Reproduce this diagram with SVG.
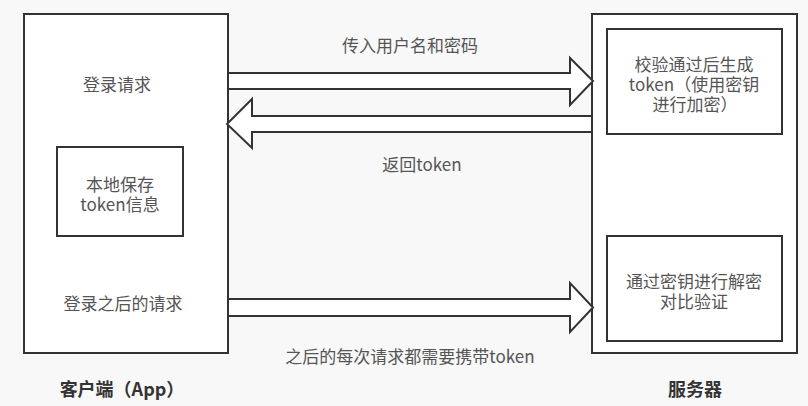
<svg xmlns="http://www.w3.org/2000/svg" width="808" height="406" viewBox="0 0 808 406">
<style>
.box{fill:#fff;stroke:#333;stroke-width:2}
.arrow{fill:#fff;stroke:#333;stroke-width:2;stroke-linejoin:miter}
.t{font-family:"Noto Sans CJK SC","Microsoft YaHei",sans-serif;font-size:17px;fill:#555;text-anchor:middle;dominant-baseline:central}
.b{font-family:"Noto Sans CJK SC","Microsoft YaHei",sans-serif;font-size:18px;font-weight:bold;fill:#333;text-anchor:middle;dominant-baseline:central}
</style>
<rect width="808" height="406" fill="#f8f8f8"/>
<g id="client">
<rect class="box" x="24" y="14" width="204" height="339"/>
<text class="t" x="117" y="83">登录请求</text>
<text class="t" x="123" y="302">登录之后的请求</text>
<text class="b" x="122" y="388">客户端（App）</text>
</g>
<g id="local-store">
<rect class="box" x="57" y="147" width="126" height="89"/>
<text class="t" x="120" y="183">本地保存</text>
<text class="t" x="120" y="203">token信息</text>
</g>
<g id="server">
<rect class="box" x="592" y="14" width="205" height="339"/>
<text class="b" x="695" y="388">服务器</text>
</g>
<g id="gen-token">
<rect class="box" x="607" y="29" width="175" height="105"/>
<text class="t" x="694" y="63">校验通过后生成</text>
<text class="t" x="694" y="83">token（使用密钥</text>
<text class="t" x="695" y="103">进行加密）</text>
</g>
<g id="verify">
<rect class="box" x="607" y="236" width="175" height="105"/>
<text class="t" x="694" y="280">通过密钥进行解密</text>
<text class="t" x="694" y="300">对比验证</text>
</g>
<g id="connectors">
<polygon class="arrow" points="228,73 570,73 570,58 593,81 570,105 570,89 228,89"/>
<text class="t" x="410" y="44">传入用户名和密码</text>
<polygon class="arrow" points="592,116 252,116 252,99 227,124 252,148 252,132 592,132"/>
<text class="t" x="422" y="163">返回token</text>
<polygon class="arrow" points="228,299 570,299 570,283 593,307.5 570,332 570,316 228,316"/>
<text class="t" x="410" y="355">之后的每次请求都需要携带token</text>
</g>
</svg>
